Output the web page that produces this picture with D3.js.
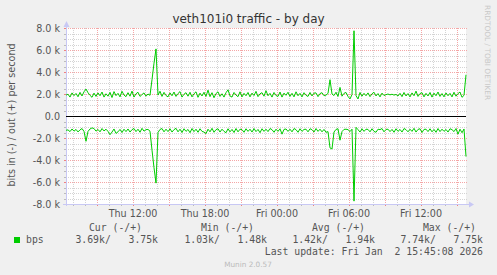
<!DOCTYPE html>
<html><head><meta charset="utf-8">
<script src="https://cdn.jsdelivr.net/npm/d3@7"></script>
<style>
body{margin:0;background:#f0f0f0}
svg{display:block}
text{font-family:"DejaVu Sans",sans-serif}
.mono{font-family:"DejaVu Sans Mono",monospace;white-space:pre}
</style>
</head><body>
<svg id="c" width="497" height="275"></svg>
<script>
const title = "veth101i0 traffic - by day";
const yAxisTitle = "bits in (-) / out (+) per second";
const yTickValues = [-8000,-6000,-4000,-2000,0,2000,4000,6000,8000];
const yTickLabels = ["-8.0 k","-6.0 k","-4.0 k","-2.0 k","0.0","2.0 k","4.0 k","6.0 k","8.0 k"];
const xTickLabels = ["Thu 12:00","Thu 18:00","Fri 00:00","Fri 06:00","Fri 12:00"];
const xTickTimes = [new Date(2026,0,1,12),new Date(2026,0,1,18),new Date(2026,0,2,0),new Date(2026,0,2,6),new Date(2026,0,2,12)];
const startTime = new Date(2026,0,1,6,25);
const endTime = new Date(2026,0,2,15,45);
const stepMinutes = 10;
const seriesName = "bps";
// out (+) in kbit/s, one value per 10 minutes
const outValues = [1.90,
1.98,1.72,2.10,1.85,2.05,1.75,2.15,1.82,2.20,2.45,
2.12,1.88,1.70,2.08,1.78,2.10,1.84,2.18,1.72,2.02,
1.80,2.15,1.68,2.22,1.85,2.06,1.74,2.25,1.90,1.76,
2.12,1.80,2.26,1.72,2.02,2.16,1.78,1.95,2.10,1.80,
2.00,1.88,3.30,4.80,6.10,1.90,2.25,1.78,2.15,1.86,
1.74,2.10,1.84,2.18,1.78,2.04,2.22,1.72,1.98,2.12,
1.80,2.16,1.74,2.02,2.20,1.70,2.08,1.82,2.16,1.78,
2.35,1.76,2.12,1.66,2.04,2.20,1.78,2.02,1.72,2.12,
2.38,1.82,1.72,2.14,1.90,1.76,2.20,1.74,2.06,1.84,
2.14,1.74,2.08,1.86,2.24,1.76,2.02,2.12,1.80,2.30,
1.84,2.06,1.72,2.14,1.86,1.78,2.18,1.72,2.08,1.88,
2.16,1.78,2.06,1.74,2.20,1.84,2.06,1.74,2.12,1.88,
1.78,2.14,1.82,2.08,2.10,1.76,2.04,2.12,1.84,1.90,
2.05,3.30,2.00,1.86,2.16,1.78,2.60,1.80,2.06,2.14,
1.78,1.55,1.95,7.75,1.85,1.55,2.14,1.80,2.06,1.84,
2.10,1.76,2.02,2.16,1.82,2.04,1.74,2.08,1.86,1.94,
2.00,1.92,1.98,1.90,1.96,1.82,2.06,1.76,2.14,1.82,
2.04,1.74,2.10,1.84,2.26,1.78,2.04,2.12,1.74,2.06,
1.82,2.14,1.72,2.08,1.84,2.18,1.78,2.04,1.74,2.10,
1.84,2.06,1.74,2.16,1.80,2.04,2.18,1.70,1.88,3.75];
// in (-) in kbit/s, magnitudes
const inValues = [1.30,
1.26,1.42,1.18,1.38,1.22,1.45,1.26,1.14,1.40,2.30,
1.40,1.18,1.08,1.14,1.38,1.22,1.44,1.14,1.36,1.20,
1.40,1.70,1.46,1.18,1.58,1.44,1.22,1.50,1.20,1.42,
1.18,1.46,1.24,1.14,1.42,1.20,1.48,1.12,1.38,1.24,
1.22,1.38,3.10,4.70,6.10,1.50,1.22,1.14,1.44,1.20,
1.42,1.16,1.46,1.24,1.12,1.44,1.20,1.50,1.16,1.40,
1.22,1.52,1.14,1.42,1.20,1.48,1.16,1.40,1.46,1.60,
1.20,1.44,1.12,1.48,1.24,1.16,1.46,1.20,1.40,1.52,
1.16,1.44,1.22,1.50,1.14,1.44,1.20,1.24,1.48,1.16,
1.40,1.20,1.46,1.14,1.42,1.22,1.52,1.16,1.40,1.20,
1.42,1.14,1.24,1.48,1.20,1.40,1.16,1.65,1.22,1.18,
1.40,1.20,1.44,1.14,1.24,1.48,1.16,1.40,1.22,1.20,
1.44,1.16,1.24,1.46,1.14,1.40,1.20,1.44,1.22,1.48,
1.42,2.90,3.00,1.46,1.22,1.16,2.20,1.42,1.22,1.20,
1.24,1.42,1.20,7.74,1.03,1.24,1.46,1.16,1.40,1.20,
1.22,1.44,1.16,1.40,1.48,1.20,1.24,1.14,1.44,1.22,
1.20,1.42,1.22,1.48,1.16,1.40,1.22,1.46,1.14,1.24,
1.44,1.20,1.40,1.12,1.46,1.22,1.16,1.50,1.22,1.20,
1.42,1.16,1.44,1.22,1.48,1.14,1.42,1.20,1.40,1.22,
1.46,1.16,1.24,1.42,1.14,1.65,1.20,1.52,1.18,3.69];
const legendHeaders = ["Cur (-/+)","Min (-/+)","Avg (-/+)","Max (-/+)"];
const legendValues = ["3.69k/   3.75k","1.03k/   1.48k","1.42k/   1.94k","7.74k/   7.75k"];
const lastUpdate = "Last update: Fri Jan  2 15:45:08 2026";
const footer = "Munin 2.0.57";
const watermark = "RRDTOOL / TOBI OETIKER";

const svg = d3.select("#c");
const L=66, R=466, T=28, B=204;
const x = d3.scaleTime().domain([startTime,endTime]).range([L,R]);
const y = d3.scaleLinear().domain([-8000,8000]).range([B,T]);
const green = "#00cc00";

svg.append("rect").attr("width",497).attr("height",275).attr("fill","#f0f0f0");
svg.append("rect").attr("x",L).attr("y",T).attr("width",R-L).attr("height",B-T).attr("fill","#fff");

const g = svg.append("g").attr("shape-rendering","crispEdges");
// horizontal grid
const yMinor = d3.range(-8000,8001,500);
yMinor.forEach(v=>{
  const major = v%2000===0;
  if(v===0) return;
  const yy = Math.round(y(v))+0.5;
  g.append("line").attr("x1",L).attr("x2",R+2).attr("y1",yy).attr("y2",yy)
   .attr("stroke",major?"#f4a6a6":"#d4d4d4").attr("stroke-dasharray","1,1");
  g.append("line").attr("x1",L-2).attr("x2",L).attr("y1",yy).attr("y2",yy)
   .attr("stroke",major?"#f08080":"#bbbbbb");
});
// vertical grid
const hours = d3.timeHour.range(d3.timeHour.ceil(startTime), endTime);
hours.forEach(t=>{
  const major = t.getHours()%3===0;
  const xx = Math.round(x(t))+0.5;
  g.append("line").attr("x1",xx).attr("x2",xx).attr("y1",T).attr("y2",B)
   .attr("stroke",major?"#f4a6a6":"#d4d4d4").attr("stroke-dasharray","1,1");
  g.append("line").attr("x1",xx).attr("x2",xx).attr("y1",B).attr("y2",B+2)
   .attr("stroke",major?"#f08080":"#bbbbbb");
});
// axes
const axisColor = "#c8c8f4";
g.append("line").attr("x1",L+0.5).attr("x2",L+0.5).attr("y1",T-4).attr("y2",B+2).attr("stroke",axisColor);
g.append("line").attr("x1",L-3).attr("x2",R+4).attr("y1",B+0.5).attr("y2",B+0.5).attr("stroke",axisColor);
svg.append("path").attr("d",`M${L-2.5},${T-1}L${L+0.5},${T-7}L${L+3.5},${T-1}Z`).attr("fill",axisColor);
svg.append("path").attr("d",`M${R+3},${B-2.5}L${R+8},${B+0.5}L${R+3},${B+3.5}Z`).attr("fill",axisColor);

// y labels
yTickValues.forEach((v,i)=>{
  svg.append("text").attr("x",60).attr("y",y(v)+3.5).attr("text-anchor","end")
    .attr("font-size",9.6).attr("fill","#555").text(yTickLabels[i]);
});
// x labels
xTickTimes.forEach((t,i)=>{
  svg.append("text").attr("x",x(t)).attr("y",216.5).attr("text-anchor","middle")
    .attr("font-size",9.6).attr("fill","#555").text(xTickLabels[i]);
});

// data lines
const timeAt = i => new Date(startTime.getTime()+i*stepMinutes*60000);
const line = d3.line().x(d=>x(d.t)).y(d=>y(d.v));
const outData = outValues.map((v,i)=>({t:timeAt(i),v:v*1000}));
const inData = inValues.map((v,i)=>({t:timeAt(i),v:-v*1000}));
svg.append("path").datum(outData).attr("d",line).attr("fill","none").attr("stroke",green).attr("stroke-width",1);
svg.append("path").datum(inData).attr("d",line).attr("fill","none").attr("stroke",green).attr("stroke-width",1);
// zero line
g.append("line").attr("x1",L).attr("x2",R).attr("y1",Math.round(y(0))+0.5).attr("y2",Math.round(y(0))+0.5).attr("stroke","#000");

// titles
svg.append("text").attr("x",248.5).attr("y",23).attr("text-anchor","middle")
  .attr("font-size",12).attr("fill","#333").text(title);
svg.append("text").attr("transform","translate(14.5,115) rotate(-90)").attr("text-anchor","middle")
  .attr("font-size",9.6).attr("fill","#555").text(yAxisTitle);
svg.append("text").attr("transform","translate(485,5) rotate(90)")
  .attr("font-size",7.4).attr("fill","#c8c8c8").text(watermark);

// legend
const headEnd=[142,254,365,476], valEnd=[158,267,375,483];
legendHeaders.forEach((h,i)=>{
  svg.append("text").attr("class","mono").attr("x",headEnd[i]).attr("y",230.5).attr("text-anchor","end")
    .attr("font-size",9.8).attr("fill","#555").text(h);
  svg.append("text").attr("class","mono").attr("x",valEnd[i]).attr("y",243.3).attr("text-anchor","end")
    .attr("font-size",9.8).attr("fill","#555").text(legendValues[i]);
});
svg.append("rect").attr("x",14).attr("y",237).attr("width",6).attr("height",6).attr("fill",green);
svg.append("text").attr("class","mono").attr("x",26).attr("y",243.3)
  .attr("font-size",9.8).attr("fill","#555").text(seriesName);
svg.append("text").attr("class","mono").attr("x",483).attr("y",255.3).attr("text-anchor","end")
  .attr("font-size",9.8).attr("fill","#555").text(lastUpdate);
svg.append("text").attr("x",248).attr("y",266.5).attr("text-anchor","middle")
  .attr("font-size",7.3).attr("fill","#bbb").text(footer);
</script>
</body></html>
